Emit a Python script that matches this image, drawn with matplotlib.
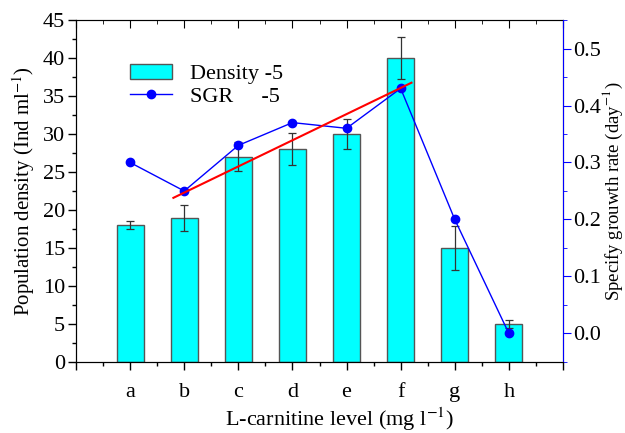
import numpy as np
import matplotlib.pyplot as plt
from matplotlib.ticker import MultipleLocator
from matplotlib.patches import Patch
from matplotlib.lines import Line2D

plt.rcParams['font.family'] = ['Liberation Serif', 'DejaVu Serif']
plt.rcParams['mathtext.fontset'] = 'stix'

# Data
levels = ['a', 'b', 'c', 'd', 'e', 'f', 'g', 'h']
density = [18, 19, 27, 28, 30, 40, 15, 5]
density_err = [0.5, 1.7, 1.9, 2.1, 2.0, 2.7, 2.9, 0.5]
sgr = [0.30, 0.25, 0.33, 0.37, 0.36, 0.43, 0.20, 0.00]
trend_x = [1.8, 6.2]
trend_y = [0.238, 0.44]

x = np.arange(1, len(levels) + 1)

fig = plt.figure(figsize=(6.25, 4.33), dpi=100)
ax = fig.add_axes([0.1216, 0.164, 0.7792, 0.7898])

ax.bar(x, density, width=0.5, color='#00FFFF', edgecolor='#555555', linewidth=1, zorder=2)
ax.errorbar(x, density, yerr=density_err, fmt='none', ecolor='#333333',
            elinewidth=0.9, capsize=3, capthick=0.9, zorder=3)

ax.set_xlim(0, 9)
ax.set_ylim(0, 45)
ax.set_xticks(np.arange(0, 10))
ax.set_xticklabels([''] + levels + [''])
ax.xaxis.set_minor_locator(MultipleLocator(0.5))
ax.yaxis.set_major_locator(MultipleLocator(5))
ax.yaxis.set_minor_locator(MultipleLocator(2.5))
ax.tick_params(axis='both', which='major', labelsize=16, length=6, direction='out', width=1)
ax.tick_params(axis='both', which='minor', length=3, direction='out', width=1)
ax.tick_params(axis='x', pad=9)
ax.tick_params(axis='y', pad=2)
ax.set_xlabel('L-carnitine level (mg l$^{-1}$)', fontsize=16)
ax.xaxis.set_label_coords(0.542, -0.128)
ax.set_ylabel('Population density (Ind ml$^{-1}$)', fontsize=15, labelpad=4)

# top ticks pointing inward
top = ax.secondary_xaxis('top')
top.set_xticks(np.arange(0, 10))
top.set_xticklabels([])
top.xaxis.set_minor_locator(MultipleLocator(0.5))
top.tick_params(which='major', direction='in', length=6)
top.tick_params(which='minor', direction='in', length=3)
top.spines['top'].set_color('#555555')

ax2 = ax.twinx()
ax2.plot(x, sgr, color='blue', linewidth=1, marker='o', markersize=6, zorder=4)
ax2.plot(trend_x, trend_y, color='red', linewidth=1.5, zorder=5)
ax2.set_ylim(-0.05, 0.55)
ax2.yaxis.set_major_locator(MultipleLocator(0.1))
ax2.yaxis.set_minor_locator(MultipleLocator(0.05))
ax2.tick_params(axis='y', which='major', labelsize=16, length=6, color='blue',
                direction='out', pad=1)
ax2.tick_params(axis='y', which='minor', length=3, color='blue', direction='out')
ax2.spines['right'].set_color('blue')
ax2.spines['top'].set_visible(False)
ax2.set_ylabel('Specify grouwth rate (day$^{-1}$)', fontsize=13.5, labelpad=0.5)

handles = [Patch(facecolor='#00FFFF', edgecolor='#555555'),
           Line2D([], [], color='blue', linewidth=1, marker='o', markersize=6)]
ax2.legend(handles, ['Density -5', 'SGR     -5'], loc='upper left',
           bbox_to_anchor=(0.07, 0.93), frameon=False, fontsize=16,
           handlelength=1.9, handletextpad=0.8, labelspacing=0.1)

fig.savefig('out.png', dpi=100)
